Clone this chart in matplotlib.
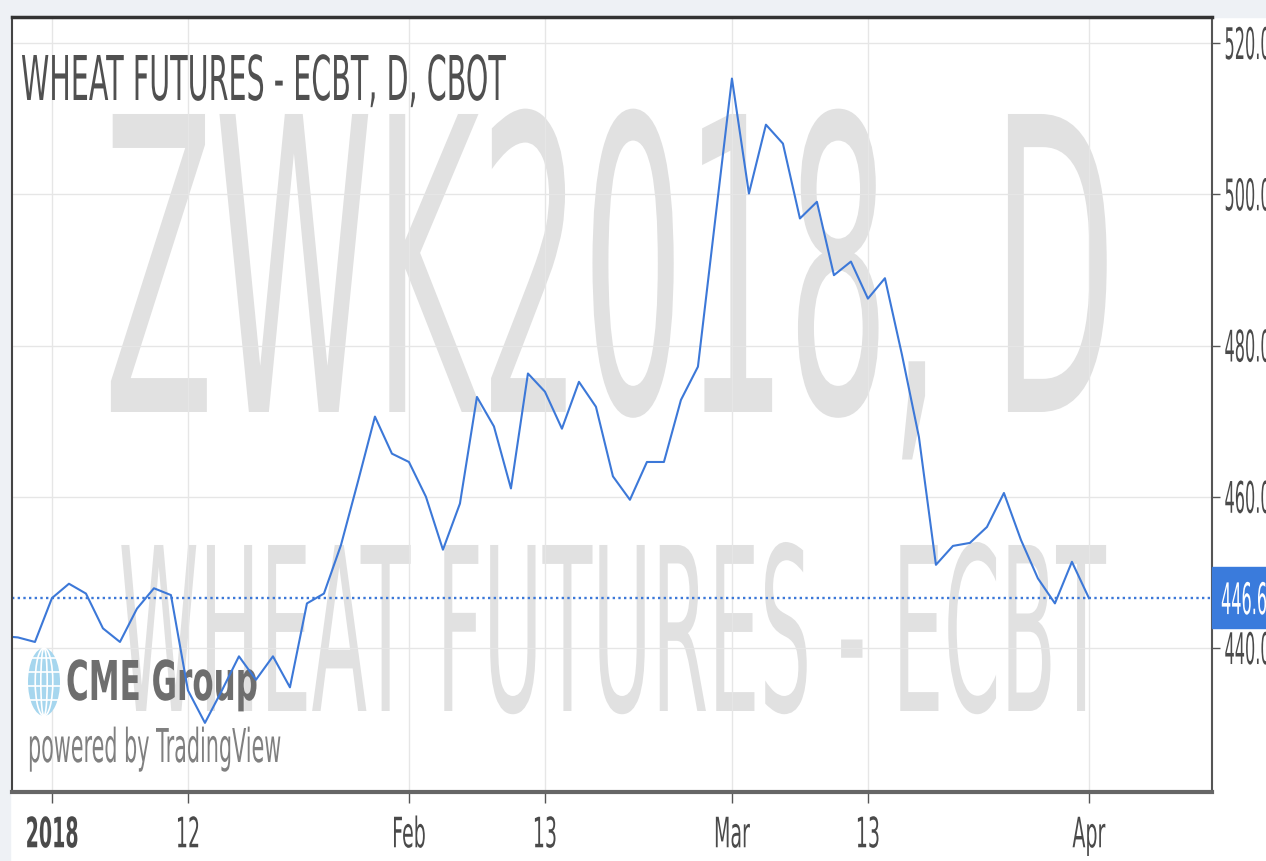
import numpy as np
import pandas as pd
import matplotlib
matplotlib.use("Agg")
import matplotlib.pyplot as plt
from matplotlib.patches import Rectangle, Ellipse
from matplotlib.patheffects import AbstractPathEffect
from matplotlib.transforms import Affine2D, blended_transform_factory

# ---- data (ZWK2018 daily closes) ----
holidays = ["2018-01-01", "2018-01-15", "2018-02-19", "2018-03-30"]
dates = pd.bdate_range("2017-12-27", "2018-04-02", freq="C", holidays=holidays)

closes = [
    441.6, 441.4, 440.8, 446.6, 448.5, 447.2, 442.6, 440.8, 445.2, 447.9,
    447.0, 434.4, 430.1, 434.4, 438.9, 435.8, 438.9, 434.8, 445.9, 447.2,
    453.6, 462.0, 470.6, 465.7, 464.6, 460.0, 453.0, 459.1, 473.2, 469.3,
    461.1, 476.3, 473.9, 469.0, 475.2, 471.9, 462.7, 459.6, 464.6, 464.6,
    472.8, 477.2, 496.3, 515.3, 500.1, 509.2, 506.7, 496.8, 499.0, 489.3,
    491.1, 486.2, 488.9, 478.8, 467.9, 451.0, 453.5, 453.9, 456.0, 460.5,
    454.3, 449.2, 445.9, 451.4, 446.6,
]
last_price = 446.6

tick_dates = ["2018-01-02", "2018-01-12", "2018-02-01", "2018-02-13",
              "2018-03-01", "2018-03-13", "2018-04-02"]
tick_labels = ["2018", "12", "Feb", "13", "Mar", "13", "Apr"]
price_ticks = [440, 460, 480, 500, 520]

W, H, DPI = 1266, 861, 100
BLUE = "#3c78d8"
TEXT = "#4a4a4a"


class Stretch(AbstractPathEffect):
    """Draw text taller than its font size (the screenshot is squeezed sideways)."""

    def __init__(self, sy, pivot=0.0):
        super().__init__()
        self.sy = sy
        self.pivot = pivot

    def draw_path(self, renderer, gc, tpath, affine, rgbFace=None):
        pre = Affine2D().translate(0, -self.pivot).scale(1, self.sy).translate(0, self.pivot)
        renderer.draw_path(gc, tpath, pre + affine, rgbFace)


fig = plt.figure(figsize=(W / DPI, H / DPI), dpi=DPI, facecolor="white")
renderer = fig.canvas.get_renderer()

# page background strips
fig.patches.append(Rectangle((0, 1 - 17 / H), 1, 17 / H, transform=fig.transFigure,
                             color="#eef1f5", zorder=-1))
fig.patches.append(Rectangle((0, 0), 10 / W, 1, transform=fig.transFigure,
                             color="#eef1f5", zorder=-1))

ax = fig.add_axes([12 / W, 1 - 792 / H, 1200 / W, 775 / H])
ax.set_axisbelow(True)

x = np.arange(len(dates))
date_pos = {d.strftime("%Y-%m-%d"): i for i, d in enumerate(dates)}
xt = [date_pos[d] for d in tick_dates]


def fitted_text(parent, s, px, py, width, cap, ha="left", **kw):
    t = parent.text(px / W, 1 - py / H, s, ha=ha, va="baseline", fontsize=10,
                    transform=fig.transFigure, **kw)
    w = t.get_window_extent(renderer).width
    size = 10 * width / w
    t.set_fontsize(size)
    t.set_path_effects([Stretch(cap / (0.729 * size * DPI / 72))])
    return t


# watermarks
fitted_text(ax, "ZWK2018, D", 610, 412, 1010, 298, ha="center",
            color="#e1e1e1", zorder=0.3, clip_on=False)
fitted_text(ax, "WHEAT FUTURES - ECBT", 612, 711, 985, 166, ha="center",
            color="#e1e1e1", zorder=0.3, clip_on=False)

# CME Group / TradingView logo
globe = Ellipse((44 / W, 1 - 682 / H), 32 / W, 68 / H, transform=fig.transFigure,
                facecolor="#a6d6ee", edgecolor="none", zorder=1, clip_on=False)
ax.add_patch(globe)
for fw in [0.55, 0.2]:
    m = Ellipse((44 / W, 1 - 682 / H), fw * 32 / W, 68 / H, transform=fig.transFigure,
                facecolor="none", edgecolor="white", lw=1.2, zorder=1.1, clip_on=False)
    ax.add_patch(m)
    m.set_clip_path(globe)
for dy in [-24, -10, 4, 18]:
    ln = ax.plot([26 / W, 62 / W], [1 - (682 + dy) / H] * 2, transform=fig.transFigure,
                 color="white", lw=1.2, zorder=1.1, clip_on=False)[0]
    ln.set_clip_path(globe)
fitted_text(ax, "CME Group", 66, 700, 192, 40, color="#6e6e6e",
            fontweight="bold", zorder=1, clip_on=False)
fitted_text(ax, "powered by TradingView", 28, 762, 254, 34, color="#808080",
            zorder=1, clip_on=False)

# price line and last-price marker
ax.plot(x, closes, color=BLUE, lw=1.5, zorder=2)
ax.axhline(last_price, color=BLUE, lw=1.7, linestyle=(0, (1, 1.4)), zorder=2)

ax.set_xlim(0.65, 71.24)
ax.set_ylim(420.96, 523.44)

ax.set_xticks(xt, tick_labels)
ax.set_yticks(price_ticks, [f"{v:.1f}" for v in price_ticks])
ax.yaxis.tick_right()
ax.grid(True, color="#e6e6e6", lw=1)

ax.tick_params(axis="x", length=8, width=1, color="#555555", pad=15,
               labelcolor=TEXT, labelsize=13.7)
ax.tick_params(axis="y", length=6, width=1, color="#555555", pad=3,
               labelcolor=TEXT, labelsize=11.6)
for tick in ax.xaxis.get_major_ticks():
    tick.label1.set_path_effects([Stretch(2.2, pivot=36.5)])
ax.xaxis.get_major_ticks()[0].label1.set_fontweight("bold")
for tick in ax.yaxis.get_major_ticks():
    tick.label2.set_path_effects([Stretch(2.7, pivot=36.5)])

for side, lw, col in [("top", 2.5, "#333333"), ("left", 1.5, "#444444"),
                      ("right", 1.5, "#555555"), ("bottom", 3, "#666666")]:
    ax.spines[side].set_linewidth(lw)
    ax.spines[side].set_color(col)

# last price badge on the price scale
tr = blended_transform_factory(ax.transAxes, ax.transData)
ax.add_patch(Rectangle((1.0, last_price - 4.0), 0.1, 8.1, transform=tr,
                       color="#3a7bdc", zorder=5, clip_on=False))
ax.text(1.0 + 9 / 1200, last_price, f"{last_price:.1f}", transform=tr,
        ha="left", va="center_baseline", fontsize=11.6, color="white", zorder=6,
        clip_on=False, path_effects=[Stretch(2.7, pivot=36.5)])

# chart title
fitted_text(fig, "WHEAT FUTURES - ECBT, D, CBOT", 21, 100, 484, 45,
            color="#505050", zorder=10)

fig.savefig("out.png", dpi=DPI)
